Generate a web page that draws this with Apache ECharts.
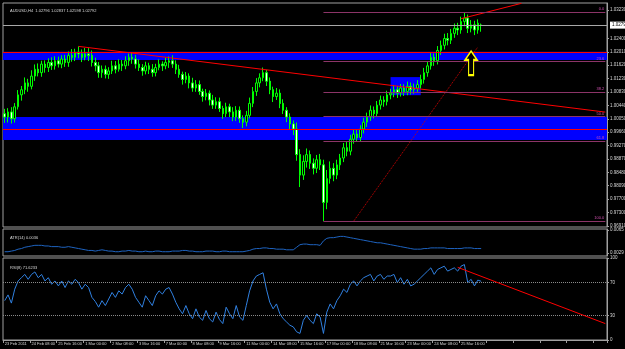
<!DOCTYPE html>
<html>
<head>
<meta charset="utf-8">
<script src="https://cdn.jsdelivr.net/npm/echarts@6/dist/echarts.min.js"></script>
<style>
html, body { margin: 0; padding: 0; background: #000; }
#chart-1 { width: 625px; height: 349px; }
</style>
</head>
<body>
<div id="chart-1"></div>
<script>
/************************        AUDUSD H4 data        **************************/

var tickLabels = ['23 Feb 2011', '24 Feb 08:00', '25 Feb 16:00', '1 Mar 00:00', '2 Mar 08:00', '3 Mar 16:00',
    '7 Mar 00:00', '8 Mar 08:00', '9 Mar 16:00', '11 Mar 00:00', '14 Mar 08:00', '15 Mar 16:00',
    '17 Mar 00:00', '18 Mar 08:00', '21 Mar 16:00', '23 Mar 00:00', '24 Mar 08:00', '25 Mar 16:00'];

// open, close, low, high
var candles = [
    [1.0020,1.0010,0.9993,1.0034],[1.0010,1.0025,0.9994,1.0036],[1.0025,1.0005,0.9991,1.0039],[1.0005,1.0040,0.9994,1.0051],
    [1.0040,1.0075,1.0032,1.0089],[1.0075,1.0090,1.0058,1.0101],[1.0090,1.0110,1.0077,1.0126],[1.0110,1.0100,1.0084,1.0122],
    [1.0100,1.0130,1.0091,1.0147],[1.0130,1.0150,1.0116,1.0164],[1.0150,1.0140,1.0129,1.0167],[1.0140,1.0165,1.0128,1.0175],
    [1.0165,1.0155,1.0140,1.0176],[1.0155,1.0170,1.0142,1.0182],[1.0170,1.0160,1.0148,1.0185],[1.0160,1.0175,1.0149,1.0188],
    [1.0175,1.0165,1.0155,1.0187],[1.0165,1.0180,1.0153,1.0191],[1.0180,1.0170,1.0157,1.0192],[1.0170,1.0190,1.0157,1.0202],
    [1.0190,1.0185,1.0172,1.0209],[1.0185,1.0200,1.0174,1.0210],[1.0200,1.0195,1.0182,1.0217],[1.0195,1.0185,1.0171,1.0208],
    [1.0185,1.0195,1.0176,1.0212],[1.0195,1.0190,1.0174,1.0212],[1.0190,1.0170,1.0158,1.0205],[1.0170,1.0160,1.0144,1.0184],
    [1.0160,1.0140,1.0125,1.0171],[1.0140,1.0150,1.0125,1.0161],[1.0150,1.0135,1.0123,1.0161],[1.0135,1.0145,1.0122,1.0156],
    [1.0145,1.0160,1.0136,1.0175],[1.0160,1.0150,1.0138,1.0174],[1.0150,1.0165,1.0143,1.0179],[1.0165,1.0160,1.0145,1.0177],
    [1.0160,1.0175,1.0150,1.0188],[1.0175,1.0185,1.0160,1.0196],[1.0185,1.0180,1.0166,1.0199],[1.0180,1.0165,1.0152,1.0192],
    [1.0165,1.0155,1.0145,1.0179],[1.0155,1.0145,1.0131,1.0165],[1.0145,1.0160,1.0135,1.0172],[1.0160,1.0150,1.0136,1.0169],
    [1.0150,1.0140,1.0128,1.0165],[1.0140,1.0155,1.0129,1.0166],[1.0155,1.0165,1.0147,1.0179],[1.0165,1.0160,1.0145,1.0173],
    [1.0160,1.0170,1.0150,1.0184],[1.0170,1.0175,1.0154,1.0188],[1.0175,1.0165,1.0154,1.0191],[1.0165,1.0150,1.0136,1.0176],
    [1.0150,1.0135,1.0125,1.0163],[1.0135,1.0120,1.0105,1.0143],[1.0120,1.0130,1.0109,1.0142],[1.0130,1.0110,1.0094,1.0138],
    [1.0110,1.0095,1.0084,1.0125],[1.0095,1.0105,1.0084,1.0118],[1.0105,1.0085,1.0075,1.0117],[1.0085,1.0070,1.0055,1.0093],
    [1.0070,1.0080,1.0059,1.0092],[1.0080,1.0060,1.0044,1.0088],[1.0060,1.0045,1.0034,1.0075],[1.0045,1.0055,1.0034,1.0068],
    [1.0055,1.0035,1.0025,1.0067],[1.0035,1.0020,1.0005,1.0043],[1.0020,1.0040,1.0010,1.0052],[1.0040,1.0025,1.0010,1.0049],
    [1.0025,1.0010,0.9998,1.0039],[1.0010,1.0030,0.9999,1.0042],[1.0030,1.0005,0.9993,1.0041],[1.0005,0.9995,0.9978,1.0015],
    [0.9995,1.0015,0.9983,1.0028],[1.0015,1.0050,1.0006,1.0067],[1.0050,1.0085,1.0039,1.0098],[1.0085,1.0110,1.0072,1.0124],
    [1.0110,1.0125,1.0097,1.0138],[1.0125,1.0140,1.0115,1.0155],[1.0140,1.0115,1.0101,1.0148],[1.0115,1.0090,1.0077,1.0126],
    [1.0090,1.0070,1.0054,1.0099],[1.0070,1.0080,1.0060,1.0095],[1.0080,1.0050,1.0036,1.0091],[1.0050,1.0030,1.0019,1.0062],
    [1.0030,1.0010,0.9995,1.0039],[1.0010,0.9990,0.9975,1.0021],[0.9990,0.9975,0.9957,1.0000],[0.9975,0.9900,0.9882,0.9994],
    [0.9900,0.9840,0.9805,0.9916],[0.9840,0.9880,0.9826,0.9898],[0.9880,0.9900,0.9862,0.9918],[0.9900,0.9875,0.9858,0.9912],
    [0.9875,0.9860,0.9842,0.9889],[0.9860,0.9885,0.9846,0.9899],[0.9885,0.9870,0.9855,0.9902],[0.9870,0.9760,0.9705,0.9885],
    [0.9760,0.9830,0.9740,0.9855],[0.9830,0.9860,0.9815,0.9880],[0.9860,0.9840,0.9822,0.9875],[0.9840,0.9870,0.9828,0.9885],
    [0.9870,0.9890,0.9855,0.9902],[0.9890,0.9920,0.9878,0.9934],[0.9920,0.9910,0.9895,0.9937],[0.9910,0.9945,0.9898,0.9958],
    [0.9945,0.9960,0.9932,0.9975],[0.9960,0.9950,0.9937,0.9972],[0.9950,0.9975,0.9939,0.9986],[0.9975,0.9995,0.9962,1.0008],
    [0.9995,1.0010,0.9981,1.0023],[1.0010,1.0030,0.9999,1.0044],[1.0030,1.0020,1.0006,1.0041],[1.0020,1.0045,1.0010,1.0057],
    [1.0045,1.0060,1.0032,1.0073],[1.0060,1.0055,1.0040,1.0071],[1.0055,1.0075,1.0044,1.0087],[1.0075,1.0080,1.0062,1.0093],
    [1.0080,1.0090,1.0068,1.0104],[1.0090,1.0080,1.0066,1.0101],[1.0080,1.0095,1.0070,1.0107],[1.0095,1.0085,1.0072,1.0106],
    [1.0085,1.0100,1.0074,1.0114],[1.0100,1.0090,1.0076,1.0111],[1.0090,1.0095,1.0078,1.0108],[1.0095,1.0105,1.0084,1.0118],
    [1.0105,1.0120,1.0094,1.0134],[1.0120,1.0140,1.0108,1.0154],[1.0140,1.0160,1.0128,1.0174],[1.0160,1.0185,1.0149,1.0198],
    [1.0185,1.0175,1.0160,1.0196],[1.0175,1.0205,1.0164,1.0218],[1.0205,1.0220,1.0192,1.0234],[1.0220,1.0240,1.0208,1.0254],
    [1.0240,1.0235,1.0220,1.0256],[1.0235,1.0255,1.0224,1.0268],[1.0255,1.0270,1.0242,1.0284],[1.0270,1.0265,1.0250,1.0286],
    [1.0265,1.0290,1.0254,1.0304],[1.0290,1.0300,1.0276,1.0317],[1.0300,1.0270,1.0256,1.0310],[1.0270,1.0280,1.0258,1.0294],
    [1.0280,1.0265,1.0250,1.0292],[1.0265,1.0285,1.0254,1.0296],[1.02796,1.02792,1.02598,1.02837]
];

var atr = [
    0.0031,0.0031,0.0032,0.0033,0.0035,0.0036,0.0038,0.0039,0.0040,0.0041,0.0041,
    0.0041,0.0040,0.0040,0.0039,0.0039,0.0039,0.0038,0.0038,0.0039,0.0038,
    0.0037,0.0036,0.0035,0.0034,0.0033,0.0033,0.0032,0.0033,0.0034,0.0033,
    0.0032,0.0032,0.0031,0.0031,0.0032,0.0032,0.0033,0.0032,0.0032,0.0031,
    0.0031,0.0032,0.0031,0.0031,0.0032,0.0032,0.0031,0.0031,0.0031,0.0032,
    0.0032,0.0032,0.0033,0.0033,0.0032,0.0032,0.0031,0.0031,0.0031,0.0032,
    0.0032,0.0032,0.0031,0.0031,0.0032,0.0032,0.0031,0.0031,0.0031,0.0031,
    0.0031,0.0032,0.0033,0.0035,0.0036,0.0036,0.0037,0.0037,0.0036,0.0036,
    0.0035,0.0035,0.0035,0.0034,0.0034,0.0034,0.0038,0.0042,0.0043,0.0043,
    0.0042,0.0042,0.0042,0.0041,0.0048,0.0052,0.0053,0.0053,0.0054,0.0055,
    0.0055,0.0054,0.0053,0.0052,0.0051,0.0050,0.0049,0.0048,0.0047,0.0046,
    0.0045,0.0045,0.0044,0.0043,0.0042,0.0041,0.0040,0.0039,0.0038,0.0037,
    0.0036,0.0035,0.0035,0.0035,0.0036,0.0036,0.0037,0.0037,0.0037,0.0037,
    0.0037,0.0036,0.0036,0.0036,0.0036,0.0036,0.0037,0.0037,0.0037,0.0036,0.0036,0.0036
];

var rsi = [
    48,55,45,62,72,76,80,74,80,
    83,76,80,72,76,68,72,66,
    72,64,72,68,74,70,62,68,64,52,47,
    40,48,42,50,58,52,60,56,64,68,62,
    52,46,40,54,48,42,54,60,56,62,64,56,46,38,
    32,42,32,26,38,28,24,36,26,22,34,25,20,40,32,26,42,28,24,42,
    60,72,78,80,82,62,
    46,38,44,32,26,22,18,16,
    10,8,24,30,24,20,32,28,8,
    34,44,38,48,54,
    62,58,68,72,66,72,76,78,
    80,72,78,80,74,78,78,
    80,70,76,68,74,66,68,72,76,80,
    84,88,80,86,88,90,84,
    86,88,84,90,92,
    70,74,66,73,71.62
];

var priceTicks = [1.03230, 1.02400, 1.02010, 1.01620, 1.01230, 1.00830, 1.00440, 1.00050,
    0.99660, 0.99270, 0.98870, 0.98480, 0.98090, 0.97700, 0.97300, 0.96910];
var atrTicks = [0.0065, 0.0029];
var rsiTicks = [100, 70, 30, 0];

var bidPrice = 1.02792;
var fibHigh = 1.0317, fibLow = 0.9705;
var fibRatios = [0, 0.236, 0.382, 0.5, 0.618, 1];
var fibNames = ['0.0', '23.6', '38.2', '50.0', '61.8', '100.0'];
var zones = [[1.0201, 1.0177], [1.0010, 0.9943]];
var zoneLines = [1.0199, 0.9974];

var slots = 180;
var categories = [];
for (var i = 0; i < slots; i++) {
    categories.push(i % 8 === 0 && tickLabels[i / 8] ? tickLabels[i / 8] : '');
}
var blank = [];
for (var i = 0; i < slots; i++) blank.push(null);

var dom = document.getElementById('chart-1');
var myChart = echarts.init(dom);

var font = 'Liberation Sans';
var txt = '#d8d8d8';
var border = '#a0a0a0';
var fibColor = '#8c3468';

var fibLines = fibRatios.map(function (r, k) {
    var v = fibHigh - r * (fibHigh - fibLow);
    return [
        {coord: [95, v], label: {show: true, formatter: fibNames[k], position: 'insideEndTop',
            color: '#d050b0', fontSize: 4, fontFamily: font, distance: 1}},
        {coord: [179, v]}
    ];
});

option = {
    backgroundColor: '#000',
    animation: false,
    title: [
        {text: 'AUDUSD,H4  1.02796 1.02837 1.02598 1.02792', left: 5, top: 4,
            textStyle: {color: txt, fontSize: 4, fontWeight: 'normal', fontFamily: font}},
        {text: 'ATR(14) 0.0036', left: 5, top: 231,
            textStyle: {color: txt, fontSize: 4, fontWeight: 'normal', fontFamily: font}},
        {text: 'RSI(8) 71.6233', left: 5, top: 261,
            textStyle: {color: txt, fontSize: 4, fontWeight: 'normal', fontFamily: font}}
    ],
    grid: [
        {left: 3, top: 3, width: 604, height: 224, show: true, borderColor: border, borderWidth: 1, outerBoundsMode: 'none'},
        {left: 3, top: 229, width: 604, height: 27, show: true, borderColor: border, borderWidth: 1, outerBoundsMode: 'none'},
        {left: 3, top: 258, width: 604, height: 82, show: true, borderColor: border, borderWidth: 1, outerBoundsMode: 'none'}
    ],
    xAxis: [
        {type: 'category', gridIndex: 0, data: categories, show: false},
        {type: 'category', gridIndex: 1, data: categories, show: false},
        {
            type: 'category', gridIndex: 2, data: categories,
            axisLine: {lineStyle: {color: border}},
            axisTick: {show: true, length: 3, lineStyle: {color: border},
                interval: function (idx) { return idx % 8 === 0; }},
            axisLabel: {interval: 0, color: txt, fontSize: 4, fontFamily: font, margin: 2, align: 'left'}
        }
    ],
    yAxis: [
        {
            type: 'value', gridIndex: 0, position: 'right', min: 0.9688, max: 1.0344,
            splitLine: {show: false},
            axisLine: {show: true, lineStyle: {color: border}},
            axisTick: {show: true, length: 2, customValues: priceTicks, lineStyle: {color: border}},
            axisLabel: {customValues: priceTicks, color: txt, fontSize: 4.5, fontFamily: font, margin: 3,
                formatter: function (v) { return v.toFixed(5); }}
        },
        {
            type: 'value', gridIndex: 1, position: 'right', min: 0.00243, max: 0.00666,
            splitLine: {show: false},
            axisLine: {show: true, lineStyle: {color: border}},
            axisTick: {show: true, length: 2, customValues: atrTicks, lineStyle: {color: border}},
            axisLabel: {customValues: atrTicks, color: txt, fontSize: 4.5, fontFamily: font, margin: 3,
                formatter: function (v) { return v.toFixed(4); }}
        },
        {
            type: 'value', gridIndex: 2, position: 'right', min: 0, max: 100,
            splitLine: {show: false},
            axisLine: {show: true, lineStyle: {color: border}},
            axisTick: {show: true, length: 2, customValues: rsiTicks, lineStyle: {color: border}},
            axisLabel: {customValues: rsiTicks, color: txt, fontSize: 4.5, fontFamily: font, margin: 3}
        }
    ],
    series: [
        // blue zones behind the candles
        {
            type: 'line', xAxisIndex: 0, yAxisIndex: 0, data: blank, z: 1, silent: true,
            showSymbol: false, lineStyle: {opacity: 0},
            markArea: {
                silent: true,
                itemStyle: {color: '#0000ff'},
                data: zones.map(function (z) { return [{yAxis: z[0]}, {yAxis: z[1]}]; })
                    .concat([[{coord: [115, 1.0127]}, {coord: [124, 1.0074]}]])
            }
        },
        {
            type: 'candlestick', xAxisIndex: 0, yAxisIndex: 0, data: candles, z: 3,
            barWidth: 2,
            itemStyle: {color: '#000', color0: '#fff', borderColor: '#00ff00', borderColor0: '#00ff00', borderWidth: 1}
        },
        // objects: trend lines, fibo, bid line, arrow
        {
            type: 'line', xAxisIndex: 0, yAxisIndex: 0, data: blank, z: 5, silent: true,
            showSymbol: false, lineStyle: {opacity: 0},
            markLine: {
                silent: true, symbol: 'none', animation: false, precision: 6,
                label: {show: false},
                lineStyle: {color: '#ff0000', width: 1, type: 'solid'},
                data: [
                    {yAxis: zoneLines[0]},
                    {yAxis: zoneLines[1]},
                    [{coord: [22, 1.0217]}, {coord: [179, 1.00245]}],
                    [{coord: [136, 1.0298]}, {coord: [154, 1.0343]}],
                    [{coord: [104, 0.9705], lineStyle: {type: 'dotted', color: '#d00000'}}, {coord: [141, 1.0215]}]
                ].concat(fibLines.map(function (l) {
                    l[0].lineStyle = {color: fibColor, width: 1, type: 'solid'};
                    return l;
                })).concat([
                    {yAxis: bidPrice, lineStyle: {color: '#a8a8a8', width: 1, type: 'solid'},
                        label: {show: true, position: 'end', formatter: bidPrice.toFixed(5), distance: 3,
                            color: '#000', backgroundColor: '#fff', fontSize: 4.5, fontFamily: font, padding: [1, 2]}}
                ])
            },
            markPoint: {
                silent: true,
                data: [{
                    coord: [139, 1.0168],
                    symbol: 'path://M6,0 L12,8 L8.5,8 L8.5,22 L3.5,22 L3.5,8 L0,8 Z',
                    symbolSize: [12, 24],
                    itemStyle: {color: '#000', borderColor: '#ffff00', borderWidth: 1.5},
                    label: {show: false}
                }]
            }
        },
        {
            type: 'line', xAxisIndex: 1, yAxisIndex: 1, data: atr, showSymbol: false,
            lineStyle: {color: '#1e63c0', width: 1}
        },
        {
            type: 'line', xAxisIndex: 2, yAxisIndex: 2, data: rsi, showSymbol: false,
            lineStyle: {color: '#3080e0', width: 1},
            markLine: {
                silent: true, symbol: 'none', label: {show: false}, precision: 6,
                data: [
                    {yAxis: 70, lineStyle: {color: '#8a8a8a', type: 'dotted', width: 1}},
                    {yAxis: 30, lineStyle: {color: '#8a8a8a', type: 'dotted', width: 1}},
                    [{coord: [135, 88.6], lineStyle: {color: '#ff0000', type: 'solid', width: 1}}, {coord: [179, 20]}]
                ]
            }
        }
    ]
};

myChart.setOption(option);
</script>
</body>
</html>
